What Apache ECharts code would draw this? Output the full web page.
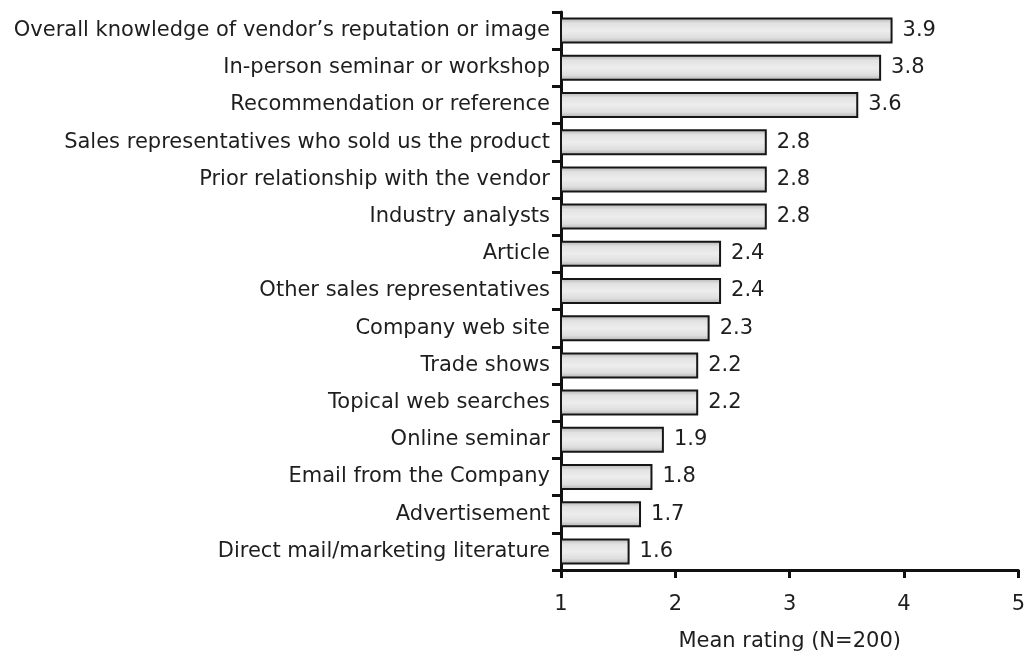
<!DOCTYPE html>
<html>
<head>
<meta charset="utf-8">
<script src="https://cdn.jsdelivr.net/npm/echarts@6/dist/echarts.min.js"></script>
<style>
  html, body { margin: 0; padding: 0; background: #ffffff; }
  #chart { width: 1028px; height: 657px; }
</style>
</head>
<body>
<div id="chart"></div>
<script>
// Sources of vendor information, ranked by mean rating
const categories = [
  "Overall knowledge of vendor\u2019s reputation or image",
  "In-person seminar or workshop",
  "Recommendation or reference",
  "Sales representatives who sold us the product",
  "Prior relationship with the vendor",
  "Industry analysts",
  "Article",
  "Other sales representatives",
  "Company web site",
  "Trade shows",
  "Topical web searches",
  "Online seminar",
  "Email from the Company",
  "Advertisement",
  "Direct mail/marketing literature"
];
const meanRatings = [3.9, 3.8, 3.6, 2.8, 2.8, 2.8, 2.4, 2.4, 2.3, 2.2, 2.2, 1.9, 1.8, 1.7, 1.6];
const ratingTicks = [1, 2, 3, 4, 5];
const axisTitle = "Mean rating (N=200)";

const chart = echarts.init(document.getElementById('chart'), null, { renderer: 'canvas' });
const textColor = '#1e1e1e';
const font = '"DejaVu Sans", Verdana, sans-serif';
const fontSize = 21;

chart.setOption({
  backgroundColor: '#ffffff',
  animation: false,
  grid: { left: 561, right: 6, top: 12, bottom: 87, containLabel: false },
  xAxis: {
    type: 'value',
    min: ratingTicks[0],
    max: ratingTicks[ratingTicks.length - 1],
    interval: 1,
    name: axisTitle,
    nameLocation: 'middle',
    nameGap: 61,
    nameTextStyle: { color: textColor, fontSize: fontSize, fontFamily: font },
    axisLine: { show: true, lineStyle: { color: '#111', width: 3 } },
    axisTick: { show: true, length: 8, lineStyle: { color: '#111', width: 3 } },
    axisLabel: { color: textColor, fontSize: fontSize, fontFamily: font, margin: 24 },
    splitLine: { show: false }
  },
  yAxis: {
    type: 'category',
    data: categories,
    inverse: true,
    axisLine: { show: true, lineStyle: { color: '#111', width: 3 } },
    axisTick: { show: true, length: 9, alignWithLabel: false, lineStyle: { color: '#111', width: 3 } },
    axisLabel: { color: textColor, fontSize: fontSize, fontFamily: font, margin: 11, interval: 0 },
    splitLine: { show: false }
  },
  series: [{
    type: 'bar',
    data: meanRatings,
    barWidth: 26,
    clip: true,
    itemStyle: {
      borderColor: '#161616',
      borderWidth: 2,
      color: new echarts.graphic.LinearGradient(0, 0, 0, 1, [
        { offset: 0, color: '#b0b0b0' },
        { offset: 0.22, color: '#e2e2e2' },
        { offset: 0.5, color: '#ededed' },
        { offset: 0.78, color: '#dedede' },
        { offset: 1, color: '#acacac' }
      ])
    },
    label: {
      show: true,
      position: 'right',
      distance: 10,
      color: textColor,
      fontSize: fontSize,
      fontFamily: font,
      formatter: p => p.value.toFixed(1)
    }
  }]
});
</script>
</body>
</html>
